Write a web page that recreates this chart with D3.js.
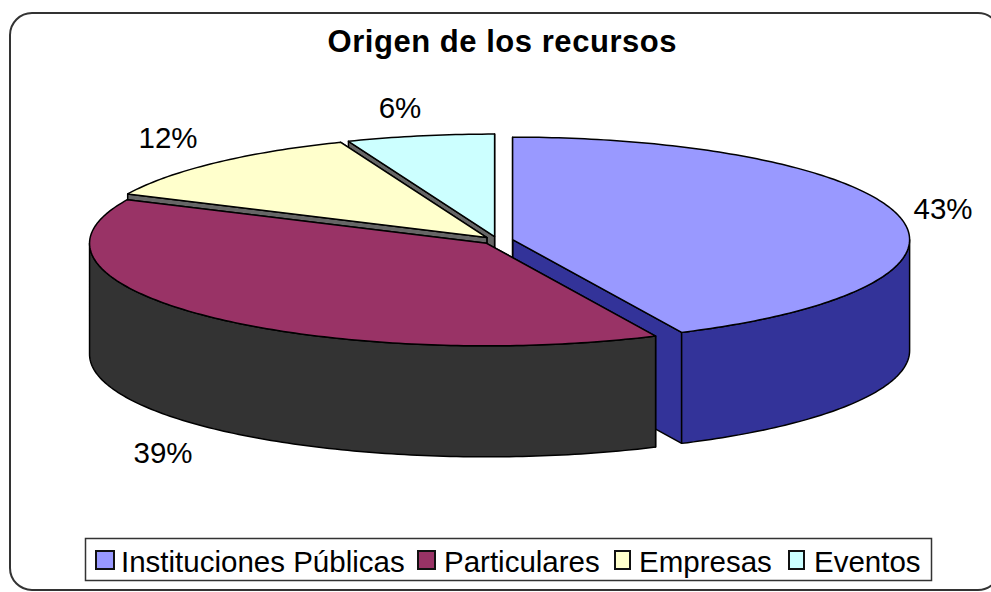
<!DOCTYPE html>
<html>
<head>
<meta charset="utf-8">
<script src="https://cdn.jsdelivr.net/npm/d3@7"></script>
<style>
	html, body { margin: 0; padding: 0; background: #fff; overflow: hidden; }
	svg { display: block; }
	text { font-family: "Liberation Sans", Arial, sans-serif; fill: #000; }
</style>
</head>
<body>
<svg id="chart"></svg>
<script>
const title = 'Origen de los recursos';
const categories = ['Instituciones Públicas', 'Particulares', 'Empresas', 'Eventos'];
const values = [43, 39, 12, 6];

const topColors = ['#9999ff', '#993366', '#ffffcc', '#ccffff'];
const sideColors = ['#333399', '#333333', '#666666', '#666666'];
const drawOrder = [3, 2, 0, 1];

// hand placed, same order as categories
const labelPos = [[943, 208], [163, 452], [168, 137], [400, 107]];
const legendSwatchX = [96, 418, 615, 789];
const legendSwatchW = [18, 17, 15, 15];
const legendTextX = [121, 444, 639, 814];

function makeChart() {
	let w = 991;
	let h = 592;
	let depth = 111;
	let explode = 0.039;

	let chart = d3.select('#chart')
		.attr('width', w)
		.attr('height', h);

	chart.append('rect')
		.attr('x', 10)
		.attr('y', 13)
		.attr('width', 990)
		.attr('height', 577)
		.attr('rx', 22)
		.style('fill', '#fff')
		.style('stroke', '#333')
		.style('stroke-width', 2);

	chart.append('text')
		.attr('x', 502)
		.attr('y', 52)
		.attr('text-anchor', 'middle')
		.attr('textLength', 349)
		.style('font-size', '31px')
		.style('font-weight', 'bold')
		.text(title);

	// unit circle -> flattened screen ellipse
	let x = d3.scaleLinear().domain([-1, 1]).range([100.5, 894.5]);
	let y = d3.scaleLinear().domain([-1, 1]).range([138, 343]);

	let slices = d3.pie().sort(null)(values);
	slices.forEach(d => {
		let mid = (d.startAngle + d.endAngle) / 2;
		d.ux = explode * Math.sin(mid);
		d.uy = -explode * Math.cos(mid);
	});

	let line = d3.line().curve(d3.curveLinear);
	let rim = (d, a) => [x(d.ux + Math.sin(a)), y(d.uy - Math.cos(a))];
	let apex = d => [x(d.ux), y(d.uy)];
	let down = p => [p[0], p[1] + depth];
	let rimPoints = (d, a0, a1) => {
		let n = Math.max(2, Math.ceil((a1 - a0) * 60));
		return d3.range(n + 1).map(i => rim(d, a0 + (a1 - a0) * i / n));
	};

	let stroke = sel => sel
		.style('stroke', '#000')
		.style('stroke-width', 1.5)
		.style('stroke-linejoin', 'round');

	drawOrder.forEach(i => {
		let d = slices[i];
		let g = chart.append('g');

		// cut faces, the start one last so it stays in front
		[d.endAngle, d.startAngle].forEach(a => {
			let p = rim(d, a);
			g.append('path')
				.attr('d', line([apex(d), p, down(p), down(apex(d))]) + 'Z')
				.style('fill', sideColors[i])
				.call(stroke);
		});

		// outer wall, only the part facing the viewer
		let a0 = Math.max(d.startAngle, Math.PI / 2);
		let a1 = Math.min(d.endAngle, Math.PI * 1.5);
		if (a1 > a0) {
			let pts = rimPoints(d, a0, a1);
			g.append('path')
				.attr('d', line(pts.concat(pts.slice().reverse().map(down))) + 'Z')
				.style('fill', sideColors[i])
				.call(stroke);
		}

		// top face
		g.append('path')
			.attr('d', line([apex(d)].concat(rimPoints(d, d.startAngle, d.endAngle))) + 'Z')
			.style('fill', topColors[i])
			.call(stroke);
	});

	chart.selectAll('text.pct')
		.data(values)
		.enter()
		.append('text')
		.classed('pct', true)
		.attr('x', (d, i) => labelPos[i][0])
		.attr('y', (d, i) => labelPos[i][1] + 11)
		.attr('text-anchor', 'middle')
		.style('font-size', '29.5px')
		.text(d => d + '%');

	chart.append('rect')
		.attr('x', 85.5)
		.attr('y', 538.5)
		.attr('width', 846)
		.attr('height', 42)
		.style('fill', '#fff')
		.style('stroke', '#333')
		.style('stroke-width', 1.5);

	chart.selectAll('rect.swatch')
		.data(categories)
		.enter()
		.append('rect')
		.classed('swatch', true)
		.attr('x', (d, i) => legendSwatchX[i])
		.attr('y', 551)
		.attr('width', (d, i) => legendSwatchW[i])
		.attr('height', 18)
		.style('fill', (d, i) => topColors[i])
		.style('stroke', '#111')
		.style('stroke-width', 2);

	chart.selectAll('text.legend')
		.data(categories)
		.enter()
		.append('text')
		.classed('legend', true)
		.attr('x', (d, i) => legendTextX[i])
		.attr('y', 572)
		.style('font-size', '29.5px')
		.text(d => d);
}

window.onload = function () {
	makeChart();
}
</script>
</body>
</html>
